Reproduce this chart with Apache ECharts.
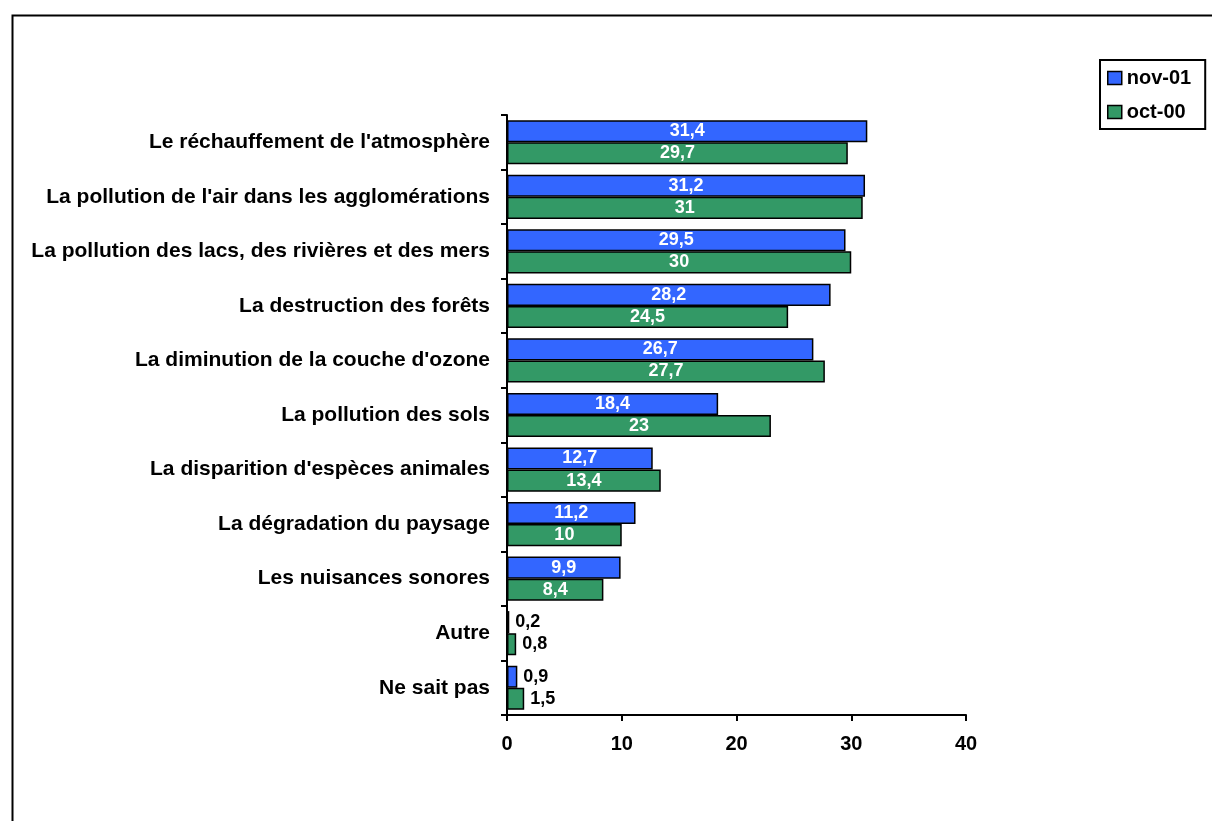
<!DOCTYPE html>
<html><head><meta charset="utf-8">
<script src="https://cdn.jsdelivr.net/npm/echarts@6/dist/echarts.min.js"></script>
<style>html,body{margin:0;padding:0;background:#fff}#c{width:1212px;height:821px}</style>
</head><body><div id="c"></div>
<script>
const categories = [
  "Le réchauffement de l'atmosphère",
  "La pollution de l'air dans les agglomérations",
  "La pollution des lacs, des rivières et des mers",
  "La destruction des forêts",
  "La diminution de la couche d'ozone",
  "La pollution des sols",
  "La disparition d'espèces animales",
  "La dégradation du paysage",
  "Les nuisances sonores",
  "Autre",
  "Ne sait pas"
];
const nov01 = [31.4, 31.2, 29.5, 28.2, 26.7, 18.4, 12.7, 11.2, 9.9, 0.2, 0.9];
const oct00 = [29.7, 31, 30, 24.5, 27.7, 23, 13.4, 10, 8.4, 0.8, 1.5];
const xTicks = [0, 10, 20, 30, 40];

const fmt = v => String(v).replace('.', ',');
const FONT = 'Liberation Sans, Arial, sans-serif';
function build(arr) {
  return arr.map(v => v < 5 ? {
    value: v,
    label: { position: 'right', color: '#000', distance: 6 }
  } : v);
}
const chart = echarts.init(document.getElementById('c'), null, {renderer: 'canvas'});
chart.setOption({
  animation: false,
  textStyle: { fontFamily: FONT },
  graphic: [{
    type: 'rect', left: 10, top: 13, silent: true,
    shape: { x: 0, y: 0, width: 1300, height: 900 },
    style: { fill: 'none', stroke: '#000', lineWidth: 2 }
  }],
  legend: {
    orient: 'vertical', left: 1100, top: 60,
    padding: [8, 14, 7, 7],
    itemWidth: 14, itemHeight: 13, itemGap: 14,
    borderColor: '#000', borderWidth: 2,
    icon: 'rect',
    itemStyle: { borderColor: '#000', borderWidth: 1.5 },
    textStyle: { fontFamily: FONT, fontWeight: 'bold', fontSize: 20, color: '#000', padding: [0, 0, 0, 0] },
    data: ['nov-01', 'oct-00']
  },
  grid: { left: 507, right: 246, top: 115, bottom: 106, containLabel: false },
  xAxis: {
    type: 'value', min: 0, max: 40, interval: 10,
    splitLine: { show: false },
    axisLine: { show: true, lineStyle: { color: '#000', width: 2 } },
    axisTick: { show: true, length: 6, lineStyle: { color: '#000', width: 2 } },
    axisLabel: { color: '#000', fontWeight: 'bold', fontSize: 20, fontFamily: FONT, margin: 19,
      formatter: v => xTicks.includes(v) ? String(v) : '' }
  },
  yAxis: {
    type: 'category', inverse: true, data: categories,
    axisLine: { show: true, lineStyle: { color: '#000', width: 2 } },
    axisTick: { show: true, length: 6, lineStyle: { color: '#000', width: 2 } },
    axisLabel: { color: '#000', fontWeight: 'bold', fontSize: 21, fontFamily: FONT, margin: 17 }
  },
  series: [
    {
      name: 'nov-01', type: 'bar', data: build(nov01),
      barGap: '0%', barCategoryGap: '19%',
      itemStyle: { color: '#3366FF', borderColor: '#000', borderWidth: 1.5 },
      label: { show: true, position: 'inside', color: '#fff', fontWeight: 'bold', fontSize: 18, fontFamily: FONT,
        formatter: p => fmt(p.value) }
    },
    {
      name: 'oct-00', type: 'bar', data: build(oct00),
      barGap: '0%', barCategoryGap: '19%',
      itemStyle: { color: '#339966', borderColor: '#000', borderWidth: 1.5 },
      label: { show: true, position: 'inside', color: '#fff', fontWeight: 'bold', fontSize: 18, fontFamily: FONT,
        formatter: p => fmt(p.value) }
    }
  ]
});
</script></body></html>
